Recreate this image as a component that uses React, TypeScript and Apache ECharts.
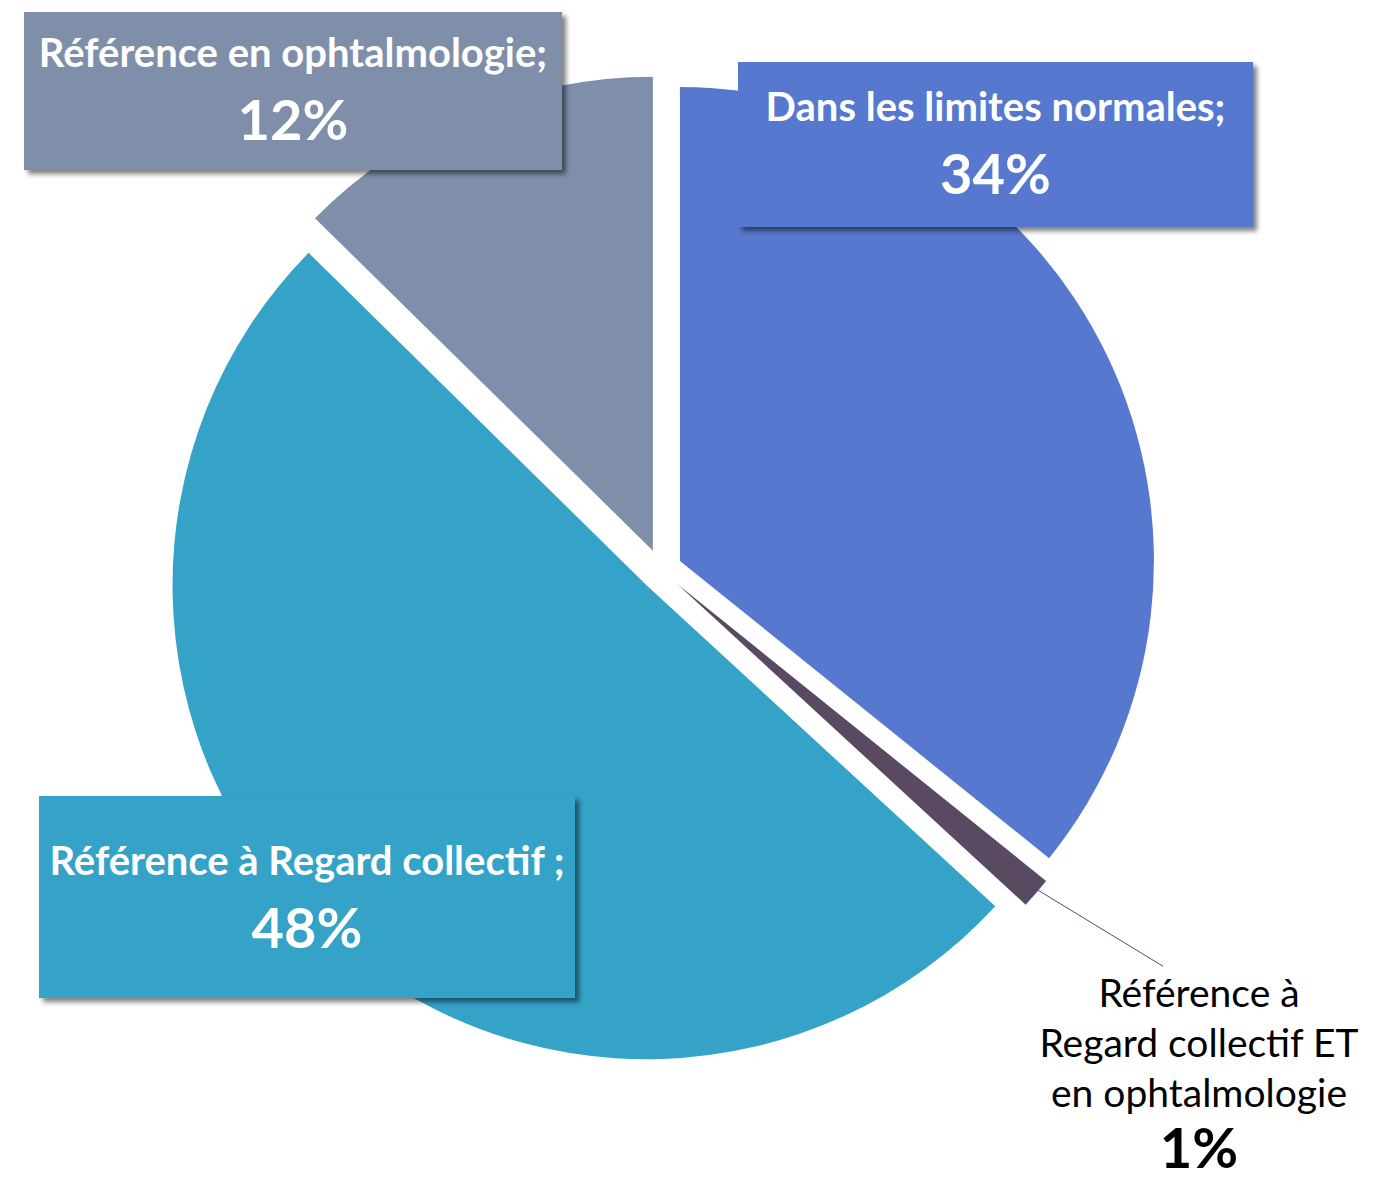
import React, { useEffect, useRef } from 'react';
import * as echarts from 'echarts';

// ---- data ----
const categories = [
  'Dans les limites normales;',
  'Référence à Regard collectif ET en ophtalmologie',
  'Référence à Regard collectif ;',
  'Référence en ophtalmologie;',
];
const labelTexts = [
  ['Dans les limites normales;'],
  ['Référence à', 'Regard collectif ET', 'en ophtalmologie'],
  ['Référence à Regard collectif ;'],
  ['Référence en ophtalmologie;'],
];
const values = [34, 1, 48, 12];
const percentLabels = ['34%', '1%', '48%', '12%'];
const colors = ['#5778CF', '#594A61', '#35A2C8', '#7F8FAA'];

// ---- label placement (style) ----
const LABEL_BOX = [
  { x: 995.5, y: 144.5, w: 515, pad: [14, 0, 19, 0] },
  { x: 1199, y: 1071, w: 330, pad: [0, 0, 0, 0] },
  { x: 307, y: 897, w: 536, pad: [34, 0, 36, 0] },
  { x: 293, y: 91, w: 538, pad: [10, 0, 16, 0] },
];

const FONT = 'Lato, "Noto Sans", sans-serif';
const CENTER = [661, 570];
const RADIUS = 474;

export default function App() {
  const ref = useRef<HTMLDivElement>(null);
  useEffect(() => {
    if (!ref.current) return;
    const chart = echarts.init(ref.current, undefined, { renderer: 'svg' });

    const sliceData = categories.map((name, i) => ({
      name,
      value: values[i],
      selected: true,
      itemStyle: { color: colors[i] },
    }));

    const labelData = categories.map((name, i) => {
      const isSmall = i === 1;
      const formatter = isSmall
        ? labelTexts[i].map((t) => `{s|${t}}`).join('\n') + `\n{sp|${percentLabels[i]}}`
        : labelTexts[i].map((t) => `{t|${t}}`).join('\n') + `\n{p|${percentLabels[i]}}`;
      return {
        name,
        value: values[i],
        itemStyle: { color: 'rgba(0,0,0,0)' },
        label: isSmall
          ? {
              show: true,
              position: 'outside',
              formatter,
              width: LABEL_BOX[i].w,
              padding: LABEL_BOX[i].pad,
              rich: {
                s: { fontFamily: FONT, fontSize: 39, color: '#000', lineHeight: 50, align: 'center' },
                sp: { fontFamily: FONT, fontSize: 56, fontWeight: 'bold', color: '#000', lineHeight: 58, align: 'center' },
              },
            }
          : {
              show: true,
              position: 'outside',
              formatter,
              width: LABEL_BOX[i].w,
              padding: LABEL_BOX[i].pad,
              backgroundColor: colors[i],
              shadowColor: 'rgba(0,0,0,0.5)',
              shadowBlur: 5,
              shadowOffsetX: 4,
              shadowOffsetY: 4,
              rich: {
                t: { fontFamily: FONT, fontSize: 40, fontWeight: 'bold', color: '#fff', lineHeight: 60, align: 'center' },
                p: { fontFamily: FONT, fontSize: 56, fontWeight: 'bold', color: '#fff', lineHeight: 72, align: 'center' },
              },
            },
        labelLine: isSmall
          ? { show: true, lineStyle: { color: '#44546A', width: 1 } }
          : { show: false },
      };
    });

    chart.setOption({
      animation: false,
      backgroundColor: '#ffffff',
      series: [
        {
          type: 'pie',
          center: CENTER,
          radius: RADIUS,
          startAngle: 90,
          clockwise: true,
          selectedMode: 'multiple',
          selectedOffset: 21,
          silent: true,
          label: { show: false },
          labelLine: { show: false },
          emphasis: { disabled: true },
          data: sliceData,
        },
        {
          type: 'pie',
          center: CENTER,
          radius: RADIUS,
          startAngle: 90,
          clockwise: true,
          silent: true,
          avoidLabelOverlap: false,
          emphasis: { disabled: true },
          data: labelData,
          labelLayout: (params: any) => {
            const i = params.dataIndex;
            const b = LABEL_BOX[i];
            const res: any = { x: b.x, y: b.y, align: 'center', verticalAlign: 'middle' };
            if (i === 1 && params.labelLinePoints) {
              const start = params.labelLinePoints[0];
              const top = b.y - params.labelRect.height / 2;
              res.labelLinePoints = [start, [b.x - 36, top - 4]];
            }
            return res;
          },
        },
      ],
    });
    return () => chart.dispose();
  }, []);
  return (
    <div
      ref={ref}
      style={{ position: 'absolute', left: 0, top: 0, width: 1388, height: 1182 }}
    />
  );
}
